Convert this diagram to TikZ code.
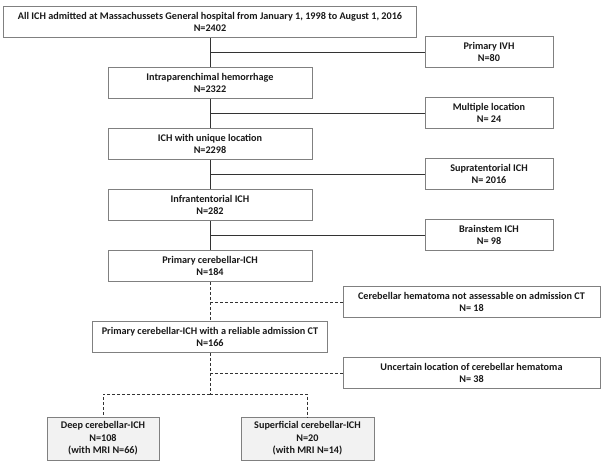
\documentclass[tikz,border=0pt]{standalone}
\usepackage{fontspec}
\setmainfont{Carlito}
\usepackage{tikz}
\usetikzlibrary{arrows, positioning, shapes}

\tikzset{
  box/.style     = {draw=black!50, line width=0.8pt, rectangle, fill=white, align=center,
                    text=black!90, font=\fontsize{10.2}{12.4}\selectfont\bfseries,
                    minimum height=31pt, inner sep=1pt},
  mainbox/.style = {box, minimum width=204pt},
  sidebox/.style = {box, minimum width=128pt},
  exclbox/.style = {box, minimum width=257pt},
  endbox/.style  = {box, fill=black!5, minimum height=43pt},
  link/.style    = {draw, black!80, line width=1pt},
  dlink/.style   = {link, dash pattern=on 3pt off 2pt},
}

\begin{document}
\begin{tikzpicture}[node distance=61pt]

\useasboundingbox (0pt,0pt) rectangle (604pt,-471pt);

\node [box, minimum width=413pt, at={(210pt,-22pt)}] (all) {All ICH admitted at Massachussets General hospital from January 1, 1998 to August 1, 2016\\N=2402};
\node [mainbox , below of=all                 ] (ip)  {Intraparenchimal hemorrhage\\N=2322};
\node [mainbox , below of=ip                  ] (uni) {ICH with unique location\\N=2298};
\node [mainbox , below of=uni                 ] (inf) {Infrantentorial ICH\\N=282};
\node [mainbox , below of=inf                 ] (pc)  {Primary cerebellar-ICH\\N=184};
\node [mainbox , below of=pc, yshift=-10pt, minimum width=235pt] (rel) {Primary cerebellar-ICH with a reliable admission CT\\N=166};

% branch points on the main line
\node [coordinate, below of=all, yshift=31pt] (b1) {};
\node [coordinate, below of=ip , yshift=31pt] (b2) {};
\node [coordinate, below of=uni, yshift=31pt] (b3) {};
\node [coordinate, below of=inf, yshift=31pt] (b4) {};
\node [coordinate, below of=pc , yshift=25pt] (b5) {};
\node [coordinate, below of=rel, yshift=25pt] (b6) {};
\node [coordinate, below of=rel, yshift=4pt ] (b7) {};

\node [sidebox , right of=b1, xshift=218pt  ] (ivh)  {Primary IVH\\N=80};
\node [sidebox , right of=b2, xshift=218pt  ] (mult) {Multiple location\\N= 24};
\node [sidebox , right of=b3, xshift=218pt  ] (sup)  {Supratentorial ICH\\N= 2016};
\node [sidebox , right of=b4, xshift=218pt  ] (bs)   {Brainstem ICH\\N= 98};
\node [exclbox , right of=b5, xshift=200.5pt] (nass) {Cerebellar hematoma not assessable on admission CT\\N= 18};
\node [exclbox , right of=b6, xshift=200.5pt] (unc)  {Uncertain location of cerebellar hematoma\\N= 38};

\node [endbox, minimum width=112pt, below of=b7, xshift=-107pt , yshift=16.5pt] (deep) {Deep cerebellar-ICH\\N=108\\(with MRI N=66)};
\node [endbox, minimum width=133pt, below of=b7, xshift=97.5pt , yshift=16.5pt] (sup2) {Superficial cerebellar-ICH\\N=20\\(with MRI N=14)};

\path [link] (all) -- (ip);
\path [link] (ip)  -- (uni);
\path [link] (uni) -- (inf);
\path [link] (inf) -- (pc);

\path [link] (b1) -- (ivh);
\path [link] (b2) -- (mult);
\path [link] (b3) -- (sup);
\path [link] (b4) -- (bs);

\path [dlink] (pc)  -- (rel);
\path [dlink] (b5)  -- (nass);
\path [dlink] (rel) -- (b7);
\path [dlink] (b6)  -- (unc);
\path [dlink] (b7)  -| (deep);
\path [dlink] (b7)  -| (sup2);

\end{tikzpicture}
\end{document}
